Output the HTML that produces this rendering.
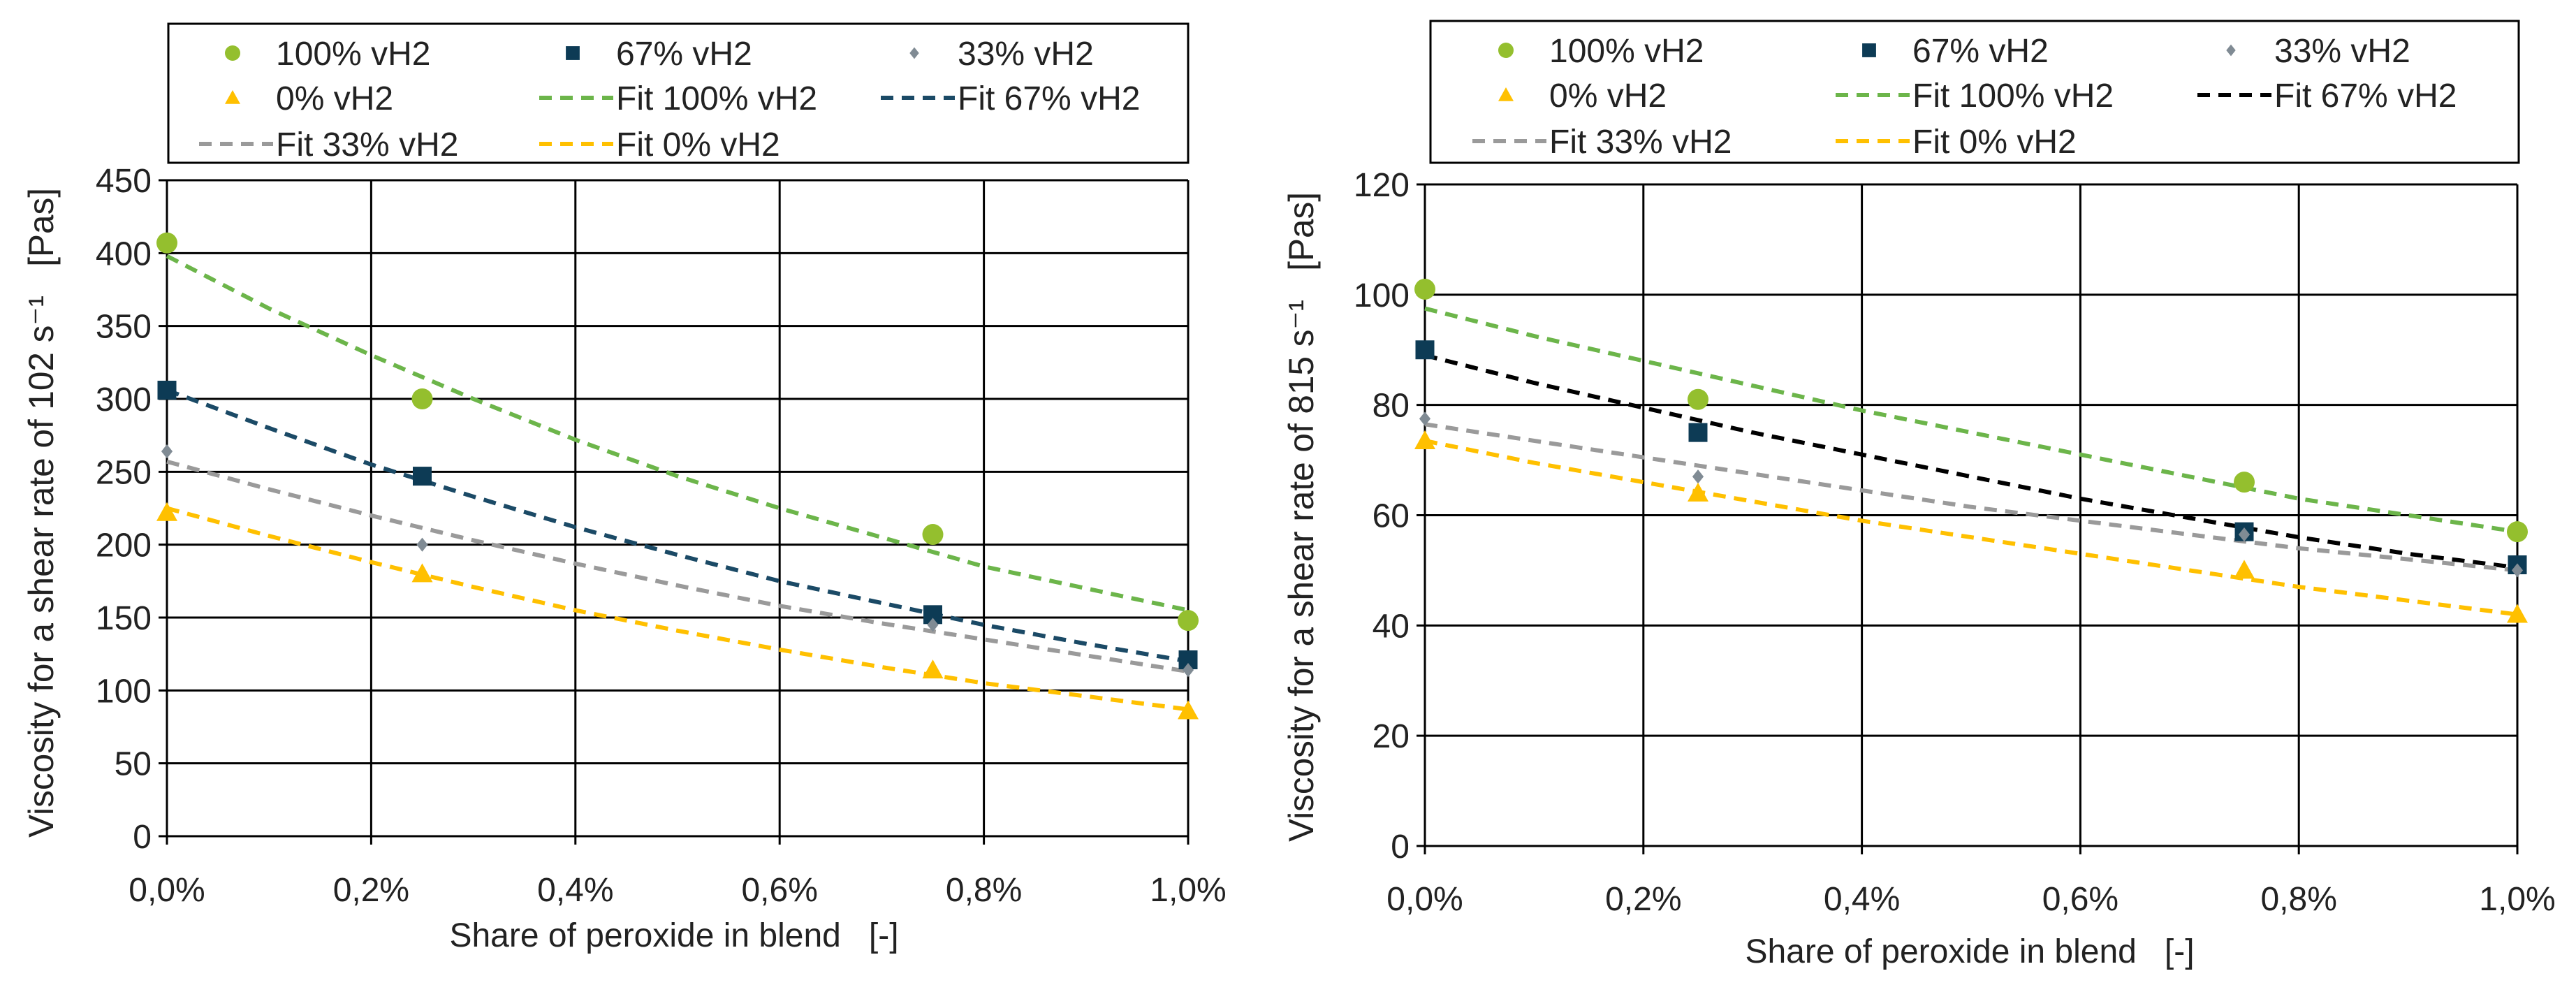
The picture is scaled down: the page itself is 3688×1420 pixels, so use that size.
<!DOCTYPE html>
<html><head><meta charset="utf-8"><style>
html,body{margin:0;padding:0;background:#fff;width:3688px;height:1420px;overflow:hidden}
svg text{font-family:"Liberation Sans",sans-serif;fill:#222}
</style></head><body>
<svg id="svg" width="3688" height="1420" xmlns="http://www.w3.org/2000/svg"></svg>
<script>
// ---- data ----
const xPoints = [0, 0.25, 0.75, 1.0];
const fitX = [0,0.1,0.2,0.3,0.4,0.5,0.6,0.7,0.8,0.9,1.0];
const xTickLabels = ["0,0%","0,2%","0,4%","0,6%","0,8%","1,0%"];
const xTicks = [0,0.2,0.4,0.6,0.8,1.0];
// left chart (102 s-1)
const L_y100 = [407,300,207,148];
const L_y67 = [306,247,152,121];
const L_y33 = [264,200,145,114];
const L_y0 = [222,180,114,86];
const L_fit100 = [398,362,330,300,272,247,225,205,185,170,155];
const L_fit67 = [306,280,255,233,212,193,175,160,145,132,120];
const L_fit33 = [257,238,220,203,187,172,158,146,135,124,113];
const L_fit0 = [225,206,188,171,155,141,128,116,105,96,87];
const L_yTicks = [0,50,100,150,200,250,300,350,400,450];
// right chart (815 s-1)
const R_y100 = [101,81,66,57];
const R_y67 = [90,75,57,51];
const R_y33 = [77.5,67,56.5,50];
const R_y0 = [73.5,64,50,42];
const R_fit100 = [97.5,92.5,88,83.5,79,75,71,67,63,60,57];
const R_fit67 = [89,84,79.5,75,71,67,63,59.5,56,53,50.5];
const R_fit33 = [76.5,73.5,70.5,67.5,64.5,61.5,59,56.5,54,52,50];
const R_fit0 = [73.5,69.5,66,62.5,59,56,53,50,47,44.5,42];
const R_yTicks = [0,20,40,60,80,100,120];

const NS="http://www.w3.org/2000/svg";
const svg=document.getElementById('svg');
function mk(tag,attrs,parent){const e=document.createElementNS(NS,tag);for(const k in attrs)e.setAttribute(k,attrs[k]);(parent||svg).appendChild(e);return e;}

const GREEN="#94bf2e", GREENFIT="#6cb54a", NAVY="#0d3b55", NAVYFIT="#1b4a66", GRAY="#808b94", GRAYFIT="#9a9a9a", YEL="#ffc000";

function marker(g,type,cx,cy,color,s){
  let e;
  if(type==='circle'){e=mk('circle',{cx:cx,cy:cy,r:s*0.5,fill:color},g);}
  else if(type==='square'){e=mk('rect',{x:cx-s*0.45,y:cy-s*0.45,width:s*0.9,height:s*0.9,fill:color},g);}
  else if(type==='diamond'){const d=s*0.42;e=mk('polygon',{points:`${cx},${cy-d} ${cx+d*0.8},${cy} ${cx},${cy+d} ${cx-d*0.8},${cy}`,fill:color},g);}
  else {const d=s*0.5;e=mk('polygon',{points:`${cx},${cy-d} ${cx+d},${cy+d*0.8} ${cx-d},${cy+d*0.8}`,fill:color},g);}
  return e;
}

function chart(c){
  const g=mk('g',{});
  
  
  const xs=v=>c.px0+(c.px1-c.px0)*v;
  const ys=v=>c.py0-(c.py0-c.py1)*(v/c.ymax);
  c.yTicks.forEach(t=>{
    const l=mk('line',{x1:c.px0-12,x2:c.px1,y1:ys(t),y2:ys(t),stroke:'#000','stroke-width':3},g);
    
    
    const tx=mk('text',{x:c.px0-22,y:ys(t)+17,'font-size':48,'text-anchor':'end'},g);
    tx.textContent=t;
    
    
  });
  xTicks.forEach((t,i)=>{
    const l=mk('line',{x1:xs(t),x2:xs(t),y1:c.py1,y2:c.py0+12,stroke:'#000','stroke-width':3},g);
    
    
    const tx=mk('text',{x:xs(t),y:c.xLabY,'font-size':48,'text-anchor':'middle'},g);
    tx.textContent=xTickLabels[i];
    
    
  });
  c.fits.forEach(f=>{
    const p=mk('polyline',{points:fitX.map((x,i)=>xs(x)+','+ys(f.data[i])).join(' '),fill:'none',stroke:f.color,'stroke-width':6,'stroke-dasharray':'18,12'},g);
    
    
  });
  c.series.forEach(s=>{
    xPoints.forEach((x,i)=>{
      const m=marker(g,s.type,xs(x),ys(s.data[i]),s.color,s.type==='diamond'?24:30);
      
      
    });
  });
  const xt=mk('text',{x:c.xTitleX,y:c.xTitleY,'font-size':48,'text-anchor':'middle'},g);
  xt.textContent='Share of peroxide in blend\u00A0\u00A0\u00A0[-]';
  
  
  const yt=mk('text',{x:0,y:0,'font-size':50,'text-anchor':'middle',transform:`translate(${c.yTitleX},${c.yTitleY}) rotate(-90)`,textLength:c.yTitleLen,lengthAdjust:'spacingAndGlyphs'},g);
  yt.textContent=c.yTitle;
  
  
  const lg=mk('g',{},g);
  
  
  mk('rect',{x:c.lx0,y:c.ly0,width:c.lx1-c.lx0,height:c.ly1-c.ly0,fill:'#fff',stroke:'#000','stroke-width':3},lg);
  const rows=[c.ly0+42,c.ly0+106,c.ly0+172];
  const items=[
    {t:'100% vH2',m:'circle',col:GREEN},{t:'67% vH2',m:'square',col:NAVY},{t:'33% vH2',m:'diamond',col:GRAY},
    {t:'0% vH2',m:'tri',col:YEL},{t:'Fit 100% vH2',l:GREENFIT},{t:'Fit 67% vH2',l:c.fit67col},
    {t:'Fit 33% vH2',l:GRAYFIT},{t:'Fit 0% vH2',l:YEL}];
  items.forEach((it,i)=>{
    const r=Math.floor(i/3), col=i%3;
    const ty=rows[r];
    const tx0=c.colText[col];
    const e=mk('g',{},lg);
    
    
    if(it.m){ marker(e,it.m,tx0-62,ty,it.col,it.m==='diamond'?20:22); }
    else { mk('line',{x1:tx0-110,x2:tx0-4,y1:ty,y2:ty,stroke:it.l,'stroke-width':6,'stroke-dasharray':'18,12'},e); }
    const t=mk('text',{x:tx0,y:ty+17,'font-size':48},e);
    t.textContent=it.t;
  });
}

chart({name:'chart-102',px0:239,px1:1701,py0:1197,py1:258,ymax:450,yTicks:L_yTicks,xLabY:1290,
  xTitleX:965,xTitleY:1355,yTitleX:76,yTitleY:734,yTitleLen:930,
  yTitle:'Viscosity for a shear rate of 102 s\u207B\u00B9\u00A0\u00A0\u00A0[Pas]',
  lx0:241,lx1:1701,ly0:34,ly1:233,colText:[395,882,1371],fit67col:NAVYFIT,
  fits:[{data:L_fit100,color:GREENFIT,nm:'fit-100'},{data:L_fit67,color:NAVYFIT,nm:'fit-67'},{data:L_fit33,color:GRAYFIT,nm:'fit-33'},{data:L_fit0,color:YEL,nm:'fit-0'}],
  series:[{data:L_y100,color:GREEN,type:'circle',nm:'vh2-100'},{data:L_y67,color:NAVY,type:'square',nm:'vh2-67'},{data:L_y33,color:GRAY,type:'diamond',nm:'vh2-33'},{data:L_y0,color:YEL,type:'tri',nm:'vh2-0'}]});

chart({name:'chart-815',px0:2040,px1:3604,py0:1211,py1:264,ymax:120,yTicks:R_yTicks,xLabY:1303,
  xTitleX:2820,xTitleY:1378,yTitleX:1880,yTitleY:740,yTitleLen:930,
  yTitle:'Viscosity for a shear rate of 815 s\u207B\u00B9\u00A0\u00A0\u00A0[Pas]',
  lx0:2048,lx1:3606,ly0:30,ly1:233,colText:[2218,2738,3256],fit67col:'#000',
  fits:[{data:R_fit100,color:GREENFIT,nm:'fit-100'},{data:R_fit67,color:'#000',nm:'fit-67'},{data:R_fit33,color:GRAYFIT,nm:'fit-33'},{data:R_fit0,color:YEL,nm:'fit-0'}],
  series:[{data:R_y100,color:GREEN,type:'circle',nm:'vh2-100'},{data:R_y67,color:NAVY,type:'square',nm:'vh2-67'},{data:R_y33,color:GRAY,type:'diamond',nm:'vh2-33'},{data:R_y0,color:YEL,type:'tri',nm:'vh2-0'}]});
</script>
</body></html>
